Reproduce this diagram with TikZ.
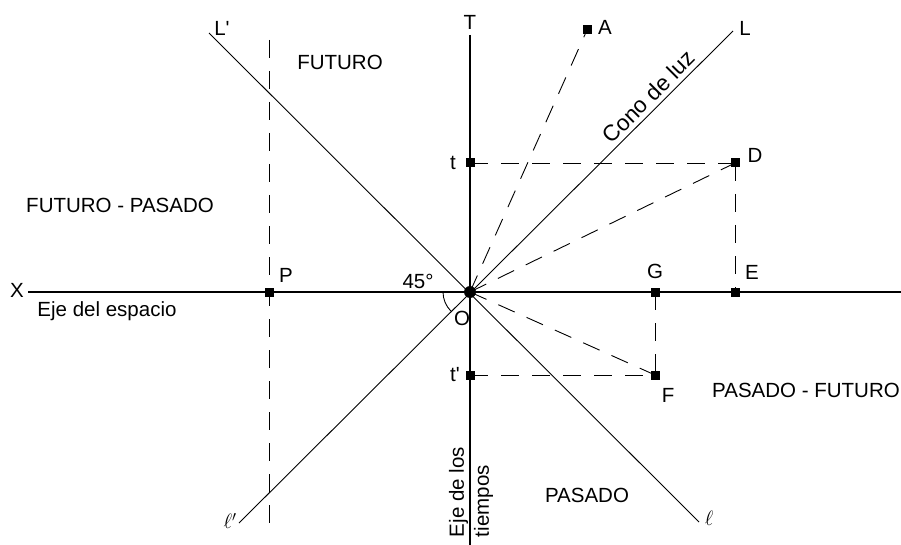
\documentclass[tikz,border=0pt]{standalone}
\usepackage{fontspec}
\setmainfont{Liberation Sans}
\begin{document}
\begin{tikzpicture}[x=1pt,y=-1pt,
  font=\fontsize{20.5}{25}\selectfont,
  axis/.style={line width=1.2pt},
  diag/.style={line width=0.9pt},
  dsh/.style={line width=0.9pt,dash pattern=on 18pt off 13pt},
  sq/.style={fill=black,minimum size=9pt,inner sep=0pt,outer sep=0pt},
  lbl/.style={inner sep=0pt}]
\useasboundingbox (0,0) rectangle (901,545);
% coordinates
\coordinate (Xl) at (28,292);
\coordinate (Xr) at (901,292);
\coordinate (Ttop) at (470,35);
\coordinate (Tbot) at (470,545);
\coordinate (Lend) at (733,31);
\coordinate (lpend) at (239,523);
\coordinate (Lpend) at (209,33);
\coordinate (lend) at (699,522);
\coordinate (Ptop) at (269,40);
\coordinate (Pbot) at (269,530);
% axes and cone
\draw[axis] (Xl) -- (Xr);
\draw[axis] (Ttop) -- (Tbot);
\draw[diag] (lpend) -- (Lend);
\draw[diag] (Lpend) -- (lend);
\draw[dsh] (Ptop) -- (Pbot);
% markers
\node[circle,fill=black,minimum size=12pt,inner sep=0pt] (O) at (470,292) {};
\node[sq] (A) at (587,30) {};
\node[sq] (t) at (470,163) {};
\node[sq] (D) at (735,163) {};
\node[sq] (E) at (735,292) {};
\node[sq] (G) at (655,292) {};
\node[sq] (F) at (655,375) {};
\node[sq] (tp) at (470,375) {};
\node[sq] (P) at (269,292) {};
% dashed connectors
\draw[dsh] (O.center) -- (A.center);
\draw[dsh] (O.center) -- (D.center);
\draw[dsh] (O.center) -- (F.center);
\draw[dsh] (t.center) -- (D.center);
\draw[dsh] (D.center) -- (E.center);
\draw[dsh] (G.center) -- (F.center);
\draw[dsh] (tp.center) -- (F.center);
% 45 degree arc
\draw[line width=0.9pt] (443,292) arc[start angle=180,end angle=135,radius=27];
% labels
\node[lbl] (lT) at (470,22) {T};
\node[lbl] (lLp) at (222,28) {L\textquotesingle};
\node[lbl] (lL) at (745,28) {L};
\node[lbl] (lA) at (605,27) {A};
\node[lbl] (lfut) at (340,62) {FUTURO};
\node[lbl] (lt) at (453,163) {t};
\node[lbl] (lD) at (755,155) {D};
\node[lbl] (lfp) at (120,205) {FUTURO - PASADO};
\node[lbl] (lX) at (17,290) {X};
\node[lbl] (lP) at (286,275) {P};
\node[lbl] (l45) at (418,281) {45°};
\node[lbl] (lG) at (655,271) {G};
\node[lbl] (lE) at (752,272) {E};
\node[lbl] (lO) at (462,318) {O};
\node[lbl] (lesp) at (107,311) {Eje del espacio};
\node[lbl] (ltp) at (455,375) {t\textquotesingle};
\node[lbl] (lF) at (668,395) {F};
\node[lbl] (lpf) at (806,390) {PASADO - FUTURO};
\node[lbl] (lpas) at (587,495) {PASADO};
\node[lbl] (llp) at (230,521) {$\ell'$};
\node[lbl] (ll) at (709,518) {$\ell$};
\node[lbl,rotate=45,anchor=south,inner sep=3.5pt,font=\fontsize{22.5}{26}\selectfont] (lcono) at (657,105) {Cono de luz};
\node[lbl,rotate=90,align=left] (ltiem) at (471,492) {Eje de los\\tiempos};
\end{tikzpicture}
\end{document}
